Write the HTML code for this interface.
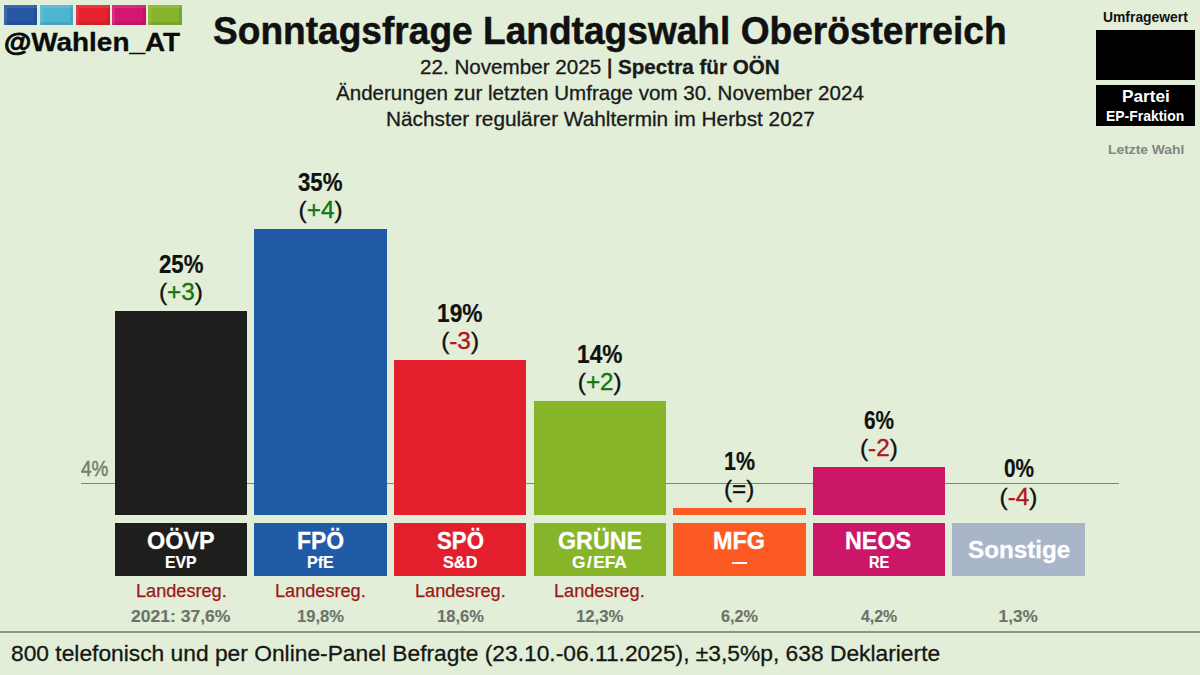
<!DOCTYPE html>
<html><head><meta charset="utf-8"><style>
html,body{margin:0;padding:0}
body{width:1200px;height:675px;background:#e2eed8;position:relative;overflow:hidden}
.r{position:absolute}
.t{position:absolute;white-space:nowrap}
</style></head><body>
<div class="r" style="left:4.0px;top:5px;width:33.4px;height:20.3px;background:#2557a5;box-shadow:inset 3px 3px 0 rgba(255,255,255,.10),inset -3px -3px 0 rgba(0,0,0,.08)"></div>
<div class="r" style="left:40.1px;top:5px;width:33.4px;height:20.3px;background:#4db5cf;box-shadow:inset 3px 3px 0 rgba(255,255,255,.10),inset -3px -3px 0 rgba(0,0,0,.08)"></div>
<div class="r" style="left:76.2px;top:5px;width:33.4px;height:20.3px;background:#e52130;box-shadow:inset 3px 3px 0 rgba(255,255,255,.10),inset -3px -3px 0 rgba(0,0,0,.08)"></div>
<div class="r" style="left:112.3px;top:5px;width:33.4px;height:20.3px;background:#d3166e;box-shadow:inset 3px 3px 0 rgba(255,255,255,.10),inset -3px -3px 0 rgba(0,0,0,.08)"></div>
<div class="r" style="left:148.4px;top:5px;width:33.4px;height:20.3px;background:#86b42a;box-shadow:inset 3px 3px 0 rgba(255,255,255,.10),inset -3px -3px 0 rgba(0,0,0,.08)"></div>
<div class="r" style="left:1096.2px;top:29.8px;width:98.6px;height:50px;background:#000"></div>
<div class="r" style="left:1096.2px;top:84.5px;width:98.6px;height:41.4px;background:#000"></div>
<div class="r" style="left:81px;top:482.8px;width:1038px;height:1.6px;background:#7d8871"></div>
<div class="r" style="left:114.7px;top:311.0px;width:132.6px;height:204.3px;background:#1e1e1c"></div>
<div class="r" style="left:114.7px;top:523px;width:132.6px;height:53px;background:#1e1e1c"></div>
<div class="r" style="left:254.3px;top:229.0px;width:132.6px;height:286.3px;background:#215aa5"></div>
<div class="r" style="left:254.3px;top:523px;width:132.6px;height:53px;background:#215aa5"></div>
<div class="r" style="left:393.9px;top:360.0px;width:132.6px;height:155.3px;background:#e31e2d"></div>
<div class="r" style="left:393.9px;top:523px;width:132.6px;height:53px;background:#e31e2d"></div>
<div class="r" style="left:533.5px;top:401.0px;width:132.6px;height:114.3px;background:#86b52a"></div>
<div class="r" style="left:533.5px;top:523px;width:132.6px;height:53px;background:#86b52a"></div>
<div class="r" style="left:673.1px;top:508.0px;width:132.6px;height:7.3px;background:#fc5a22"></div>
<div class="r" style="left:673.1px;top:523px;width:132.6px;height:53px;background:#fc5a22"></div>
<div class="r" style="left:732.1px;top:562.3px;width:14.5px;height:2.2px;background:#fff"></div>
<div class="r" style="left:812.7px;top:467.0px;width:132.6px;height:48.3px;background:#cc1768"></div>
<div class="r" style="left:812.7px;top:523px;width:132.6px;height:53px;background:#cc1768"></div>
<div class="r" style="left:952.3px;top:523px;width:132.6px;height:53px;background:#a9b5c8"></div>
<div class="r" style="left:0;top:631px;width:1200px;height:2px;background:#8e9685"></div>
<div class="t" style="left:4.00px;top:30.01px;font:bold 25.4px/1 'Liberation Sans', sans-serif;color:#0a0a0a;-webkit-text-stroke:0.3px currentColor;transform:scaleX(1.0994);transform-origin:0 0;"><span style="-webkit-text-stroke:0.9px currentColor">@</span>Wahlen_AT</div>
<div class="t" style="left:212.50px;top:11.88px;font:bold 38.5px/1 'Liberation Sans', sans-serif;color:#111;-webkit-text-stroke:0.5px currentColor;transform:scaleX(0.9635);transform-origin:0 0;">Sonntagsfrage Landtagswahl Oberösterreich</div>
<div class="t" style="left:420.00px;top:57.05px;font:normal 20.3px/1 'Liberation Sans', sans-serif;color:#1a1a1a;-webkit-text-stroke:0.3px currentColor;transform:scaleX(1.0170);transform-origin:0 0;">22. November 2025 <span style="-webkit-text-stroke:0.8px currentColor">|</span> <b>Spectra für OÖN</b></div>
<div class="t" style="left:336.01px;top:83.25px;font:normal 20.3px/1 'Liberation Sans', sans-serif;color:#1a1a1a;-webkit-text-stroke:0.3px currentColor;transform:scaleX(1.0134);transform-origin:0 0;">Änderungen zur letzten Umfrage vom 30. November 2024</div>
<div class="t" style="left:385.78px;top:109.25px;font:normal 20.3px/1 'Liberation Sans', sans-serif;color:#1a1a1a;-webkit-text-stroke:0.3px currentColor;transform:scaleX(1.0245);transform-origin:0 0;">Nächster regulärer Wahltermin im Herbst 2027</div>
<div class="t" style="left:1103.20px;top:10.03px;font:bold 14.2px/1 'Liberation Sans', sans-serif;color:#111;transform:scaleX(0.9782);transform-origin:0 0;">Umfragewert</div>
<div class="t" style="left:1121.60px;top:88.34px;font:bold 16.3px/1 'Liberation Sans', sans-serif;color:#fff;transform:scaleX(1.0578);transform-origin:0 0;">Partei</div>
<div class="t" style="left:1106.40px;top:109.30px;font:bold 14px/1 'Liberation Sans', sans-serif;color:#fff;transform:scaleX(0.9949);transform-origin:0 0;">EP-Fraktion</div>
<div class="t" style="left:1107.60px;top:143.33px;font:bold 13.5px/1 'Liberation Sans', sans-serif;color:#828782;transform:scaleX(1.0243);transform-origin:0 0;">Letzte Wahl</div>
<div class="t" style="left:81.40px;top:457.50px;font:normal 22px/1 'Liberation Sans', sans-serif;color:#727d6b;-webkit-text-stroke:0.45px currentColor;transform:scaleX(0.8594);transform-origin:0 0;">4%</div>
<div class="t" style="left:11.00px;top:642.21px;font:normal 22.7px/1 'Liberation Sans', sans-serif;color:#141814;-webkit-text-stroke:0.3px currentColor;transform:scaleX(1.0043);transform-origin:0 0;">800 telefonisch und per Online-Panel Befragte (23.10.-06.11.2025), ±3,5%p, 638 Deklarierte</div>
<div class="t" style="left:158.75px;top:251.55px;font:bold 25px/1 'Liberation Sans', sans-serif;color:#111;-webkit-text-stroke:0.2px currentColor;transform:scaleX(0.8900);transform-origin:0 0;">25%</div>
<div class="t" style="left:159.00px;top:280.14px;font:normal 24.3px/1 'Liberation Sans', sans-serif;color:#111;-webkit-text-stroke:0.35px currentColor;">(<span style="color:#127512">+3</span>)</div>
<div class="t" style="left:147.35px;top:529.10px;font:bold 24px/1 'Liberation Sans', sans-serif;color:#fff;-webkit-text-stroke:0.3px currentColor;transform:scaleX(0.9754);transform-origin:0 0;">OÖVP</div>
<div class="t" style="left:165.25px;top:553.55px;font:bold 17px/1 'Liberation Sans', sans-serif;color:#fff;-webkit-text-stroke:0.2px currentColor;transform:scaleX(0.9265);transform-origin:0 0;">EVP</div>
<div class="t" style="left:135.69px;top:581.60px;font:normal 18px/1 'Liberation Sans', sans-serif;color:#9c1818;-webkit-text-stroke:0.25px currentColor;transform:scaleX(1.0068);transform-origin:0 0;">Landesreg.</div>
<div class="t" style="left:131.00px;top:607.78px;font:bold 17.2px/1 'Liberation Sans', sans-serif;color:#6c736a;-webkit-text-stroke:0.15px currentColor;transform:scaleX(1.0204);transform-origin:0 0;">2021: 37,6%</div>
<div class="t" style="left:298.35px;top:169.55px;font:bold 25px/1 'Liberation Sans', sans-serif;color:#111;-webkit-text-stroke:0.2px currentColor;transform:scaleX(0.8900);transform-origin:0 0;">35%</div>
<div class="t" style="left:298.60px;top:198.15px;font:normal 24.3px/1 'Liberation Sans', sans-serif;color:#111;-webkit-text-stroke:0.35px currentColor;">(<span style="color:#127512">+4</span>)</div>
<div class="t" style="left:296.75px;top:529.10px;font:bold 24px/1 'Liberation Sans', sans-serif;color:#fff;-webkit-text-stroke:0.3px currentColor;transform:scaleX(0.9542);transform-origin:0 0;">FPÖ</div>
<div class="t" style="left:307.40px;top:553.55px;font:bold 17px/1 'Liberation Sans', sans-serif;color:#fff;-webkit-text-stroke:0.2px currentColor;transform:scaleX(0.9429);transform-origin:0 0;">PfE</div>
<div class="t" style="left:275.29px;top:581.60px;font:normal 18px/1 'Liberation Sans', sans-serif;color:#9c1818;-webkit-text-stroke:0.25px currentColor;transform:scaleX(1.0068);transform-origin:0 0;">Landesreg.</div>
<div class="t" style="left:297.05px;top:607.78px;font:bold 17.2px/1 'Liberation Sans', sans-serif;color:#6c736a;-webkit-text-stroke:0.15px currentColor;transform:scaleX(0.9612);transform-origin:0 0;">19,8%</div>
<div class="t" style="left:437.04px;top:300.55px;font:bold 25px/1 'Liberation Sans', sans-serif;color:#111;-webkit-text-stroke:0.2px currentColor;transform:scaleX(0.9082);transform-origin:0 0;">19%</div>
<div class="t" style="left:441.20px;top:329.14px;font:normal 24.3px/1 'Liberation Sans', sans-serif;color:#111;-webkit-text-stroke:0.35px currentColor;">(<span style="color:#b3141e">-3</span>)</div>
<div class="t" style="left:436.60px;top:529.10px;font:bold 24px/1 'Liberation Sans', sans-serif;color:#fff;-webkit-text-stroke:0.3px currentColor;transform:scaleX(0.9255);transform-origin:0 0;">SPÖ</div>
<div class="t" style="left:442.95px;top:553.55px;font:bold 17px/1 'Liberation Sans', sans-serif;color:#fff;-webkit-text-stroke:0.2px currentColor;transform:scaleX(0.9583);transform-origin:0 0;">S&amp;D</div>
<div class="t" style="left:414.89px;top:581.60px;font:normal 18px/1 'Liberation Sans', sans-serif;color:#9c1818;-webkit-text-stroke:0.25px currentColor;transform:scaleX(1.0068);transform-origin:0 0;">Landesreg.</div>
<div class="t" style="left:436.65px;top:607.78px;font:bold 17.2px/1 'Liberation Sans', sans-serif;color:#6c736a;-webkit-text-stroke:0.15px currentColor;transform:scaleX(0.9612);transform-origin:0 0;">18,6%</div>
<div class="t" style="left:576.64px;top:341.55px;font:bold 25px/1 'Liberation Sans', sans-serif;color:#111;-webkit-text-stroke:0.2px currentColor;transform:scaleX(0.9082);transform-origin:0 0;">14%</div>
<div class="t" style="left:577.80px;top:370.14px;font:normal 24.3px/1 'Liberation Sans', sans-serif;color:#111;-webkit-text-stroke:0.35px currentColor;">(<span style="color:#127512">+2</span>)</div>
<div class="t" style="left:557.65px;top:529.10px;font:bold 24px/1 'Liberation Sans', sans-serif;color:#fff;-webkit-text-stroke:0.3px currentColor;transform:scaleX(0.9690);transform-origin:0 0;">GRÜNE</div>
<div class="t" style="left:572.40px;top:553.55px;font:bold 17px/1 'Liberation Sans', sans-serif;color:#fff;-webkit-text-stroke:0.2px currentColor;transform:scaleX(1.0148);transform-origin:0 0;">G<span style="margin:0 1.5px">/</span>EFA</div>
<div class="t" style="left:554.49px;top:581.60px;font:normal 18px/1 'Liberation Sans', sans-serif;color:#9c1818;-webkit-text-stroke:0.25px currentColor;transform:scaleX(1.0068);transform-origin:0 0;">Landesreg.</div>
<div class="t" style="left:575.95px;top:607.78px;font:bold 17.2px/1 'Liberation Sans', sans-serif;color:#6c736a;-webkit-text-stroke:0.15px currentColor;transform:scaleX(0.9735);transform-origin:0 0;">12,3%</div>
<div class="t" style="left:723.54px;top:448.55px;font:bold 25px/1 'Liberation Sans', sans-serif;color:#111;-webkit-text-stroke:0.2px currentColor;transform:scaleX(0.8571);transform-origin:0 0;">1%</div>
<div class="t" style="left:723.90px;top:477.14px;font:normal 24.3px/1 'Liberation Sans', sans-serif;color:#111;-webkit-text-stroke:0.35px currentColor;">(=)</div>
<div class="t" style="left:713.02px;top:529.10px;font:bold 24px/1 'Liberation Sans', sans-serif;color:#fff;-webkit-text-stroke:0.3px currentColor;transform:scaleX(0.9769);transform-origin:0 0;">MFG</div>
<div class="t" style="left:720.50px;top:607.78px;font:bold 17.2px/1 'Liberation Sans', sans-serif;color:#6c736a;-webkit-text-stroke:0.15px currentColor;transform:scaleX(0.9450);transform-origin:0 0;">6,2%</div>
<div class="t" style="left:864.00px;top:407.55px;font:bold 25px/1 'Liberation Sans', sans-serif;color:#111;-webkit-text-stroke:0.2px currentColor;transform:scaleX(0.8333);transform-origin:0 0;">6%</div>
<div class="t" style="left:860.00px;top:436.14px;font:normal 24.3px/1 'Liberation Sans', sans-serif;color:#111;-webkit-text-stroke:0.35px currentColor;">(<span style="color:#b3141e">-2</span>)</div>
<div class="t" style="left:845.48px;top:529.10px;font:bold 24px/1 'Liberation Sans', sans-serif;color:#fff;-webkit-text-stroke:0.3px currentColor;transform:scaleX(0.9716);transform-origin:0 0;">NEOS</div>
<div class="t" style="left:868.65px;top:553.55px;font:bold 17px/1 'Liberation Sans', sans-serif;color:#fff;-webkit-text-stroke:0.2px currentColor;transform:scaleX(0.8625);transform-origin:0 0;">RE</div>
<div class="t" style="left:860.97px;top:607.78px;font:bold 17.2px/1 'Liberation Sans', sans-serif;color:#6c736a;-webkit-text-stroke:0.15px currentColor;transform:scaleX(0.9244);transform-origin:0 0;">4,2%</div>
<div class="t" style="left:1003.60px;top:456.05px;font:bold 25px/1 'Liberation Sans', sans-serif;color:#111;-webkit-text-stroke:0.2px currentColor;transform:scaleX(0.8333);transform-origin:0 0;">0%</div>
<div class="t" style="left:999.60px;top:484.64px;font:normal 24.3px/1 'Liberation Sans', sans-serif;color:#111;-webkit-text-stroke:0.35px currentColor;">(<span style="color:#b3141e">-4</span>)</div>
<div class="t" style="left:967.60px;top:537.50px;font:bold 24.7px/1 'Liberation Sans', sans-serif;color:#fff;-webkit-text-stroke:0.3px currentColor;transform:scaleX(0.9808);transform-origin:0 0;">Sonstige</div>
<div class="t" style="left:998.60px;top:607.78px;font:bold 17.2px/1 'Liberation Sans', sans-serif;color:#6c736a;-webkit-text-stroke:0.15px currentColor;">1,3%</div>
</body></html>
